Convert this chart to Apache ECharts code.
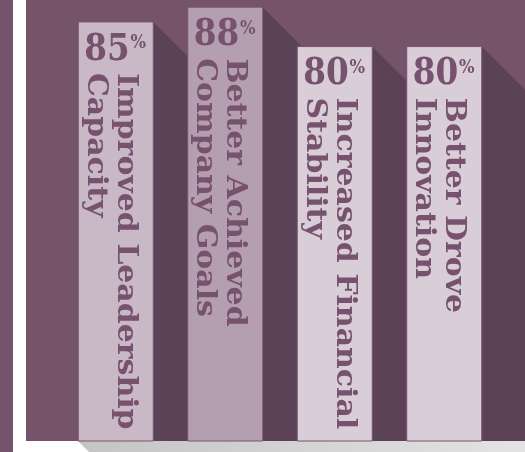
<!DOCTYPE html>
<html>
<head>
<meta charset="utf-8">
<script src="https://cdn.jsdelivr.net/npm/echarts@6/dist/echarts.min.js"></script>
<style>
html,body{margin:0;padding:0;background:#ffffff;}
#main{width:525px;height:452px;}
</style>
</head>
<body>
<div id="main"></div>
<script>
// ---- data ----
const percents = [85, 88, 80, 80];
const labelLine1 = ["Improved Leadership", "Better Achieved", "Increased Financial", "Better Drove"];
const labelLine2 = ["Capacity", "Company Goals", "Stability", "Innovation"];
const categories = labelLine1.map((a, i) => a + " " + labelLine2[i]);

// ---- styles ----
const barColors = ["#c9b8c6", "#b49fb0", "#d9cdd7", "#d9cdd7"];
const panelColor = "#74536b";
const shadowColor = "#5c4257";
const textColor = "#77526e";
const FONT = "'DejaVu Serif', 'Liberation Serif', serif";

const chart = echarts.init(document.getElementById('main'), null, {renderer: 'canvas'});

function renderItem(params, api) {
  const idx = params.dataIndex;
  const topPt = api.coord([api.value(0), api.value(1)]);
  const basePt = api.coord([api.value(0), 0]);
  const bw = api.size([1, 0])[0] * 0.685;
  const xl = topPt[0] - bw / 2, xr = topPt[0] + bw / 2;
  const yt = topPt[1], yb = basePt[1];
  const L = 70;
  return {
    type: 'group',
    children: [
      {type: 'polygon', z2: 0,
        shape: {points: [[xr, yt], [xr + L, yt + L], [xr + L, yb], [xr, yb]]},
        style: {fill: shadowColor}},
      {type: 'rect', z2: 5,
        shape: {x: xl, y: yt, width: bw, height: yb - yt},
        style: {fill: barColors[idx], stroke: '#76566e', lineWidth: 1}},
      {type: 'text', z2: 10, x: xl + 6, y: yt + 9, scaleX: 0.86,
        style: {
          text: '{n|' + api.value(1) + '}{p|%}',
          align: 'left', verticalAlign: 'top',
          rich: {
            n: {fontFamily: FONT, fontWeight: 'bold', fontSize: 38, lineHeight: 38, fill: textColor},
            p: {fontFamily: FONT, fontWeight: 'bold', fontSize: 19, lineHeight: 19, verticalAlign: 'top', fill: textColor, padding: [3, 0, 0, 1]}
          }
        }},
      {type: 'text', z2: 10, x: xr - 13, y: yt + 51, rotation: -Math.PI / 2, scaleX: 1.07,
        style: {
          text: labelLine1[idx] + '\n' + labelLine2[idx],
          align: 'left', verticalAlign: 'top',
          fontFamily: FONT, fontWeight: 'bold', fontSize: 28, lineHeight: 30,
          fill: textColor
        }}
    ]
  };
}

chart.setOption({
  animation: false,
  backgroundColor: '#ffffff',
  grid: {left: 61, right: 26, top: 0, bottom: 11},
  xAxis: {type: 'category', data: categories, show: false},
  yAxis: {type: 'value', min: 0, max: 89.45, show: false, splitLine: {show: false}},
  graphic: [
    {type: 'rect', z: -10, shape: {x: 0, y: 0, width: 13, height: 452}, style: {fill: panelColor}},
    {type: 'rect', z: -10, shape: {x: 26, y: 0, width: 499, height: 441}, style: {fill: panelColor}},
    {type: 'polygon', z: -10, shape: {points: [[78, 441], [525, 441], [525, 452], [89, 452]]},
      style: {fill: new echarts.graphic.LinearGradient(0, 0, 1, 0, [
        {offset: 0, color: '#c4c4c4'}, {offset: 1, color: '#e3e3e3'}])}}
  ],
  series: [{
    type: 'custom',
    clip: false,
    renderItem: renderItem,
    encode: {x: 0, y: 1},
    data: percents.map((v, i) => [i, v])
  }]
});
</script>
</body>
</html>
